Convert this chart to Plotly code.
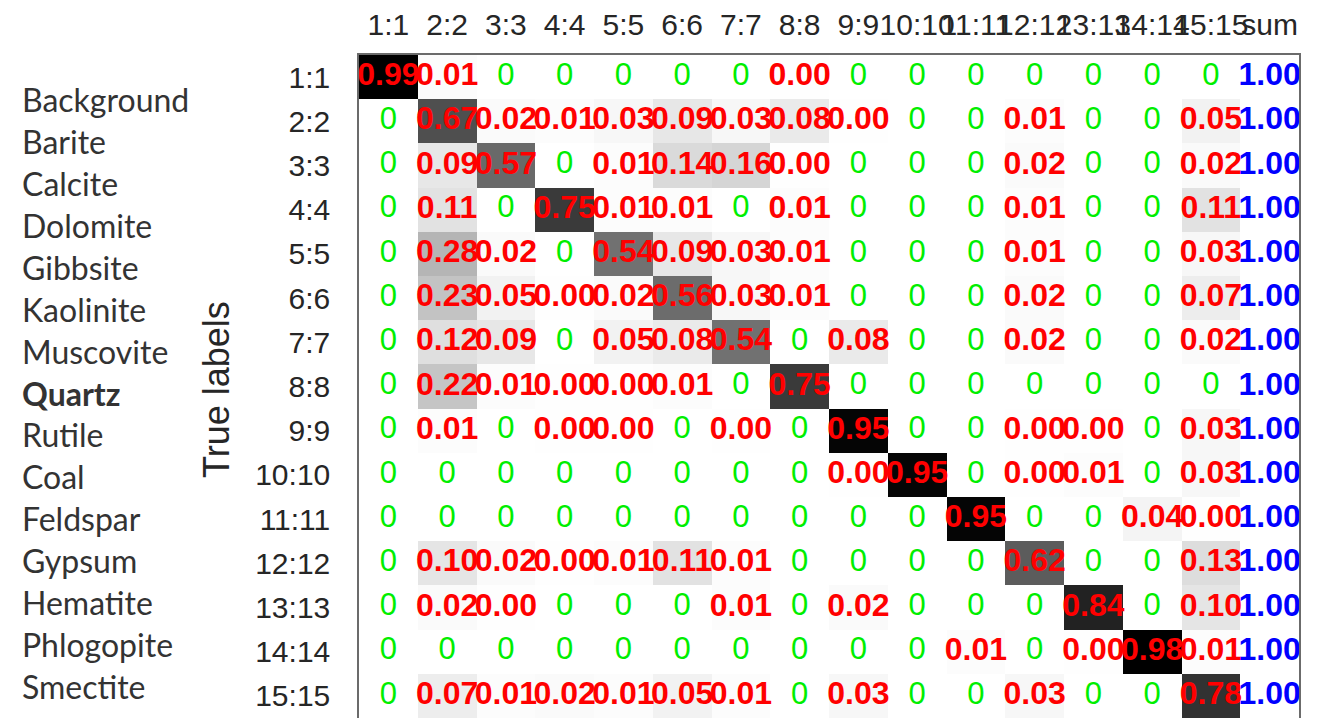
import plotly.graph_objects as go

# ---------------- data ----------------
classes = [f"{i}:{i}" for i in range(1, 16)]
col_labels = classes + ["sum"]

mineral_names = ["Background", "Barite", "Calcite", "Dolomite", "Gibbsite",
                 "Kaolinite", "Muscovite", "Quartz", "Rutile", "Coal",
                 "Feldspar", "Gypsum", "Hematite", "Phlogopite", "Smectite"]
bold_names = ["Quartz"]

T = 0.002  # values displayed as "0.00" (non-zero but < 0.005)

conf = [
    [0.99, 0.01, 0,    0,    0,    0,    0,    T,    0,    0,    0,    0,    0,    0,    0   ],
    [0,    0.67, 0.02, 0.01, 0.03, 0.09, 0.03, 0.08, T,    0,    0,    0.01, 0,    0,    0.05],
    [0,    0.09, 0.57, 0,    0.01, 0.14, 0.16, T,    0,    0,    0,    0.02, 0,    0,    0.02],
    [0,    0.11, 0,    0.75, 0.01, 0.01, 0,    0.01, 0,    0,    0,    0.01, 0,    0,    0.11],
    [0,    0.28, 0.02, 0,    0.54, 0.09, 0.03, 0.01, 0,    0,    0,    0.01, 0,    0,    0.03],
    [0,    0.23, 0.05, T,    0.02, 0.56, 0.03, 0.01, 0,    0,    0,    0.02, 0,    0,    0.07],
    [0,    0.12, 0.09, 0,    0.05, 0.08, 0.54, 0,    0.08, 0,    0,    0.02, 0,    0,    0.02],
    [0,    0.22, 0.01, T,    T,    0.01, 0,    0.75, 0,    0,    0,    0,    0,    0,    0   ],
    [0,    0.01, 0,    T,    T,    0,    T,    0,    0.95, 0,    0,    T,    T,    0,    0.03],
    [0,    0,    0,    0,    0,    0,    0,    0,    T,    0.95, 0,    T,    0.01, 0,    0.03],
    [0,    0,    0,    0,    0,    0,    0,    0,    0,    0,    0.95, 0,    0,    0.04, T   ],
    [0,    0.10, 0.02, T,    0.01, 0.11, 0.01, 0,    0,    0,    0,    0.62, 0,    0,    0.13],
    [0,    0.02, T,    0,    0,    0,    0.01, 0,    0.02, 0,    0,    0,    0.84, 0,    0.10],
    [0,    0,    0,    0,    0,    0,    0,    0,    0,    0,    0.01, 0,    T,    0.98, 0.01],
    [0,    0.07, 0.01, 0.02, 0.01, 0.05, 0.01, 0,    0.03, 0,    0,    0.03, 0,    0,    0.78],
]
row_sums = [1.00] * 15

# ---------------- geometry (page pixels; page has an 8px body margin) ----------------
OFF = 8
W, H = 1329 - OFF, 718 - OFF
PLOT_L, PLOT_R, PLOT_T, PLOT_B = 359, 1299, 55, 718   # in page pixels
ML, MR, MT = PLOT_L - OFF, (1329 - OFF) - (PLOT_R - OFF), PLOT_T - OFF
MB = H - (PLOT_B - OFF)
PW, PH = W - ML - MR, H - MT - MB


def px_to_paper(px, py):
    fx, fy = px - OFF, py - OFF
    return (fx - ML) / PW, (H - MB - fy) / PH


num_font = "Liberation Sans, Arial, sans-serif"

z = [row + [None] for row in conf]

fig = go.Figure()
fig.add_trace(go.Heatmap(
    z=z, x=col_labels, y=classes,
    colorscale=[[0, "#ffffff"], [1, "#000000"]],
    zmin=0, zmax=0.97, showscale=False, hoverinfo="skip",
))

zx, zy, zt = [], [], []
nx, ny, nt = [], [], []
for i, row in enumerate(conf):
    for j, v in enumerate(row):
        if v == 0:
            zx.append(col_labels[j]); zy.append(classes[i]); zt.append("0")
        else:
            nx.append(col_labels[j]); ny.append(classes[i]); nt.append(f"{v:.2f}")

fig.add_trace(go.Scatter(
    x=zx, y=zy, text=zt, mode="text", cliponaxis=False, hoverinfo="skip",
    textfont=dict(family=num_font, size=31, color="#00ee00"),
))
fig.add_trace(go.Scatter(
    x=nx, y=ny, text=nt, mode="text", cliponaxis=False, hoverinfo="skip",
    textfont=dict(family=num_font, size=32, color="#ff0000", weight="bold"),
))
fig.add_trace(go.Scatter(
    x=["sum"] * len(classes), y=classes, text=[f"{s:.2f}" for s in row_sums],
    mode="text", cliponaxis=False, hoverinfo="skip",
    textfont=dict(family=num_font, size=32, color="#0000ff", weight="bold"),
))

# mineral names on the left
name_top_px, name_step_px = 100, 41.86
for k, name in enumerate(mineral_names):
    ax_, ay_ = px_to_paper(20, name_top_px + k * name_step_px)
    fig.add_annotation(
        x=ax_, y=ay_, xref="paper", yref="paper",
        xanchor="left", yanchor="middle", showarrow=False, text=name,
        font=dict(family="Lato, Open Sans, sans-serif", size=32, color="#333333",
                  weight="bold" if name in bold_names else "normal"),
    )

tx, ty = px_to_paper(216, 390)
fig.add_annotation(
    x=tx, y=ty, xref="paper", yref="paper",
    xanchor="center", yanchor="middle", showarrow=False, text="True labels",
    textangle=-90, font=dict(family=num_font, size=36, color="#262626"),
)

axis_line = "#6b6b6b"
fig.update_layout(
    width=W, height=H, margin=dict(l=ML, r=MR, t=MT, b=MB),
    plot_bgcolor="white", paper_bgcolor="white", showlegend=False,
    xaxis=dict(type="category", side="top", tickmode="array",
               tickvals=col_labels, ticktext=col_labels, tickangle=0,
               range=[-0.5, len(col_labels) - 0.5], autorange=False,
               tickfont=dict(family=num_font, size=30, color="#262626"),
               showline=True, linecolor=axis_line, linewidth=1.5, mirror=False,
               showgrid=False, zeroline=False, ticks="", ticklabelstandoff=6,
               fixedrange=True, automargin=False),
    yaxis=dict(type="category", tickmode="array",
               tickvals=classes, ticktext=classes,
               range=[len(classes) - 0.5, -0.5], autorange=False,
               tickfont=dict(family=num_font, size=30, color="#262626"),
               showline=True, linecolor=axis_line, linewidth=1.5, mirror=True,
               showgrid=False, zeroline=False, ticks="", ticklabelstandoff=21,
               fixedrange=True, automargin=False),
)

fig.write_html("out.html")
